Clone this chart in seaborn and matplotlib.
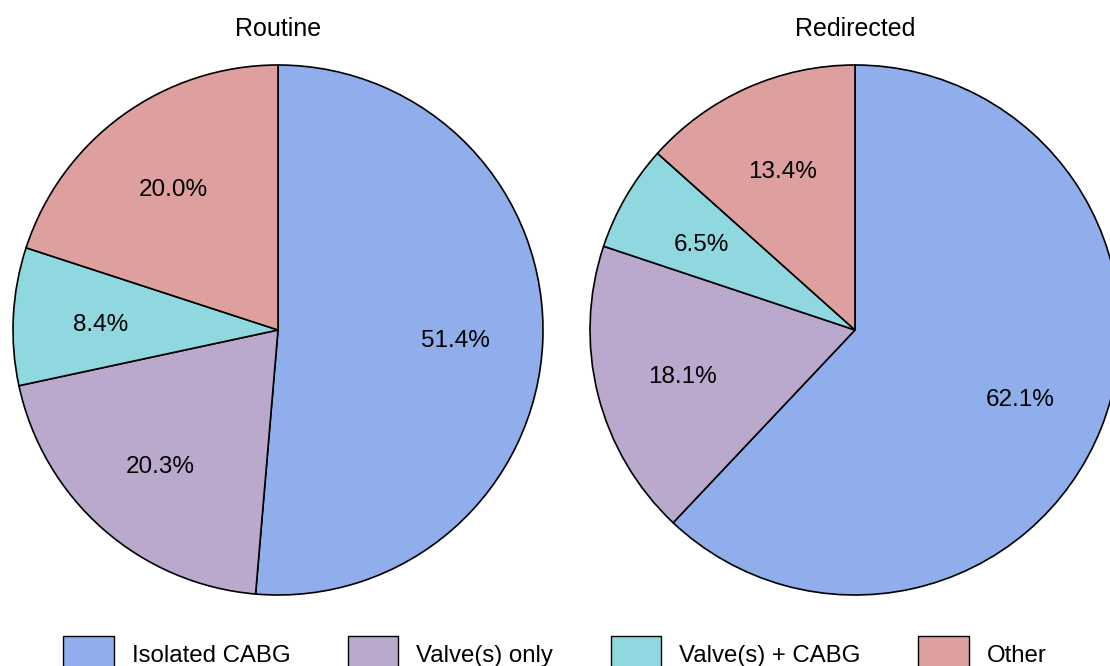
import matplotlib
matplotlib.use("Agg")
import matplotlib.pyplot as plt
import seaborn as sns
from matplotlib.patches import Patch

# =======================
# Data
# =======================
categories = ["Isolated CABG", "Valve(s) only", "Valve(s) + CABG", "Other"]
routine = [51.4, 20.3, 8.4, 20.0]
redirected = [62.1, 18.1, 6.5, 13.4]
titles = ["Routine", "Redirected"]
colors = ["#8FAEEB", "#BBA9CD", "#8FD8DF", "#DDA09E"]

sns.set_theme(style="white")
plt.rcParams["font.family"] = ["Liberation Sans", "DejaVu Sans"]
plt.rcParams["text.color"] = "black"

fig = plt.figure(figsize=(11.1, 6.66), dpi=100)

# axes placed by hand so the pies sit like the original
ax_w, ax_h = 530 / 1110, 530 / 666
bottom = (666 - 595) / 666
axes = [
    fig.add_axes([(278 - 265) / 1110, bottom, ax_w, ax_h]),
    fig.add_axes([(855 - 265) / 1110, bottom, ax_w, ax_h]),
]

for ax, vals, title in zip(axes, [routine, redirected], titles):
    wedges, texts, autotexts = ax.pie(
        vals,
        colors=colors,
        startangle=90,
        counterclock=False,
        autopct="%.1f%%",
        pctdistance=0.67,
        radius=1,
        wedgeprops=dict(edgecolor="black", linewidth=1.2),
        textprops=dict(fontsize=17.5, color="black"),
    )
    # show the published shares as-is (they don't sum to exactly 100)
    for t, v in zip(autotexts, vals):
        t.set_text(f"{v:.1f}%")
        x, y = t.get_position()
        t.set_position((x, y - 0.015))
    ax.set_xlim(-1, 1)
    ax.set_ylim(-1, 1)
    ax.set_aspect("equal")
    ax.set_title(title, fontsize=18, pad=21, color="black")
    for w in wedges:
        w.set_clip_on(False)

handles = [Patch(facecolor=c, edgecolor="black", linewidth=1) for c in colors]
fig.legend(
    handles,
    categories,
    loc="upper center",
    bbox_to_anchor=(0.5, (666 - 636) / 666),
    ncol=4,
    frameon=False,
    fontsize=17.3,
    labelcolor="black",
    handlelength=2.1,
    handleheight=2.0,
    handletextpad=0.75,
    columnspacing=2.4,
    borderpad=0,
    borderaxespad=0,
)

plt.savefig("out.png", dpi=100)
